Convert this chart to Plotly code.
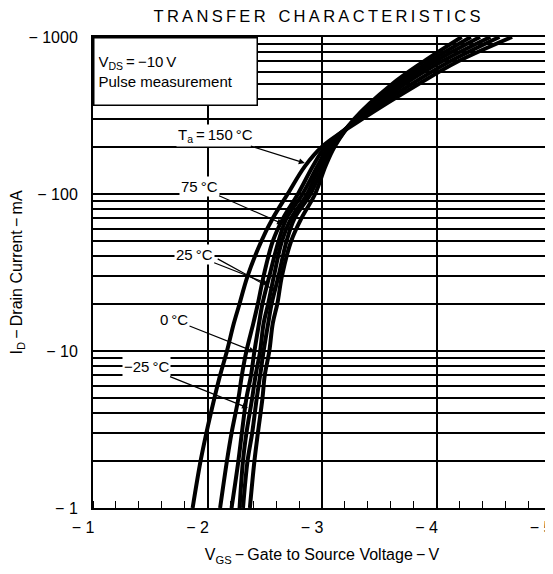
import plotly.graph_objects as go

# Drain current levels (mA, magnitude) at which each curve was read
current_mA = [1, 2, 3, 5, 7, 10, 15, 20, 30, 50, 70, 100, 150, 200, 300, 500, 700, 1000]

# Gate-source voltage (V) for each temperature curve
vgs_150 = [-1.87, -1.94, -1.99, -2.06, -2.11, -2.17, -2.23, -2.28, -2.35, -2.47, -2.57, -2.70, -2.85, -3.00, -3.35, -3.84, -4.19, -4.66]
vgs_75 = [-2.11, -2.17, -2.21, -2.27, -2.30, -2.34, -2.40, -2.44, -2.49, -2.57, -2.66, -2.79, -2.92, -3.03, -3.32, -3.78, -4.12, -4.55]
vgs_25a = [-2.21, -2.27, -2.30, -2.34, -2.38, -2.41, -2.45, -2.48, -2.54, -2.62, -2.69, -2.83, -2.96, -3.06, -3.31, -3.72, -4.05, -4.47]
vgs_25b = [-2.28, -2.31, -2.34, -2.39, -2.42, -2.46, -2.49, -2.53, -2.58, -2.65, -2.73, -2.87, -2.98, -3.08, -3.29, -3.68, -3.99, -4.38]
vgs_0 = [-2.31, -2.35, -2.39, -2.43, -2.46, -2.49, -2.53, -2.56, -2.62, -2.69, -2.76, -2.90, -3.01, -3.10, -3.29, -3.65, -3.94, -4.30]
vgs_m25 = [-2.37, -2.41, -2.44, -2.48, -2.50, -2.54, -2.57, -2.61, -2.65, -2.73, -2.82, -2.94, -3.03, -3.11, -3.28, -3.61, -3.89, -4.22]

curves = [vgs_150, vgs_75, vgs_25a, vgs_25b, vgs_0, vgs_m25]

x_tickvals = [-1, -2, -3, -4, -5]
x_ticktext = ["\u2212 1", "\u2212 2", "\u2212 3", "\u2212 4", "\u2212 5"]
y_decades = [1, 10, 100, 1000]
y_decade_text = ["\u2212 1", "\u2212 10", "\u2212 100", "\u2212 1000"]

# gridline values: every 1..9 step within each decade
y_grid = []
for d in [1, 10, 100]:
    for m in range(1, 10):
        y_grid.append(m * d)
y_grid.append(1000)
y_ticktext = [y_decade_text[y_decades.index(v)] if v in y_decades else "" for v in y_grid]

FONT = "Liberation Sans, Arial, Helvetica, sans-serif"

fig = go.Figure()
for v in curves:
    fig.add_trace(go.Scatter(x=v, y=current_mA, mode="lines",
                             line=dict(color="black", width=4, shape="spline", smoothing=1.0),
                             showlegend=False, hoverinfo="skip"))

# the page body has an 8px default margin, so the figure is sized to fit inside it
fig.update_layout(
    width=545, height=558,
    margin=dict(l=85, r=2, t=29, b=58),
    paper_bgcolor="white", plot_bgcolor="white",
    font=dict(family=FONT, size=16, color="black"),
    title=dict(text="T\u2009R\u2009A\u2009N\u2009S\u2009F\u2009E\u2009R\u2002 C\u2009H\u2009A\u2009R\u2009A\u2009C\u2009T\u2009E\u2009R\u2009I\u2009S\u2009T\u2009I\u2009C\u2009S",
               x=0.567, xanchor="center", y=0.986, yanchor="middle",
               font=dict(family=FONT, size=16.5, color="black")),
)

fig.update_xaxes(
    range=[-1, -5], tickvals=x_tickvals, ticktext=x_ticktext,
    showgrid=True, gridcolor="black", gridwidth=1.5,
    showline=True, linecolor="black", linewidth=2, mirror=True,
    ticks="", ticklabelstandoff=4, ticklabelshift=10, ticklabeloverflow="allow",
    zeroline=False, automargin=False,
    minor=dict(dtick=0.2, tick0=-1, ticks="inside", ticklen=7, tickcolor="black", tickwidth=1.2, showgrid=False),
    title=dict(text="V<sub>GS</sub>\u2009\u2212\u2009Gate to Source Voltage\u2009\u2212\u2009V", font=dict(size=16), standoff=14),
)
fig.update_yaxes(
    type="log", range=[0, 3], tickvals=y_grid, ticktext=y_ticktext,
    showgrid=True, gridcolor="black", gridwidth=1.5,
    showline=True, linecolor="black", linewidth=2, mirror=True,
    ticks="", ticklabelstandoff=10, zeroline=False, automargin=False,
    title=dict(text="I<sub>D</sub>\u2009\u2212\u2009Drain Current\u2009\u2212\u2009mA", font=dict(size=16), standoff=6),
)

# condition box in upper-left corner
fig.add_annotation(xref="paper", yref="paper", x=0, y=1, xanchor="left", yanchor="top",
                   text="V<sub>DS</sub>\u2009=\u2009\u221210\u2009V<br>Pulse measurement",
                   showarrow=False, align="left", bgcolor="white", bordercolor="black",
                   borderwidth=1.5, borderpad=4, width=154, height=58,
                   font=dict(size=15))


def label(text, tip_v, tip_logi, ax, ay):
    fig.add_annotation(x=tip_v, y=tip_logi, text=text, showarrow=True, ax=ax, ay=ay,
                       arrowhead=2, arrowsize=1, arrowwidth=1.2, arrowcolor="black",
                       bgcolor="white", font=dict(size=15), borderpad=1)

label("T<sub>a</sub>\u2009=\u2009150\u2009\u00b0C", -2.85, 2.197, -89, -28)
label("75\u2009\u00b0C", -2.66, 1.809, -84, -37)
label("25\u2009\u00b0C", -2.53, 1.427, -74, -29)
fig.add_annotation(x=-2.60, y=1.382, text="", showarrow=True, ax=-60, ay=-33,
                   arrowhead=2, arrowsize=1, arrowwidth=1.2, arrowcolor="black")
label("0\u2009\u00b0C", -2.415, 0.994, -81, -32)
label("\u221225\u2009\u00b0C", -2.354, 0.637, -102, -41)

fig.write_html("out.html")
